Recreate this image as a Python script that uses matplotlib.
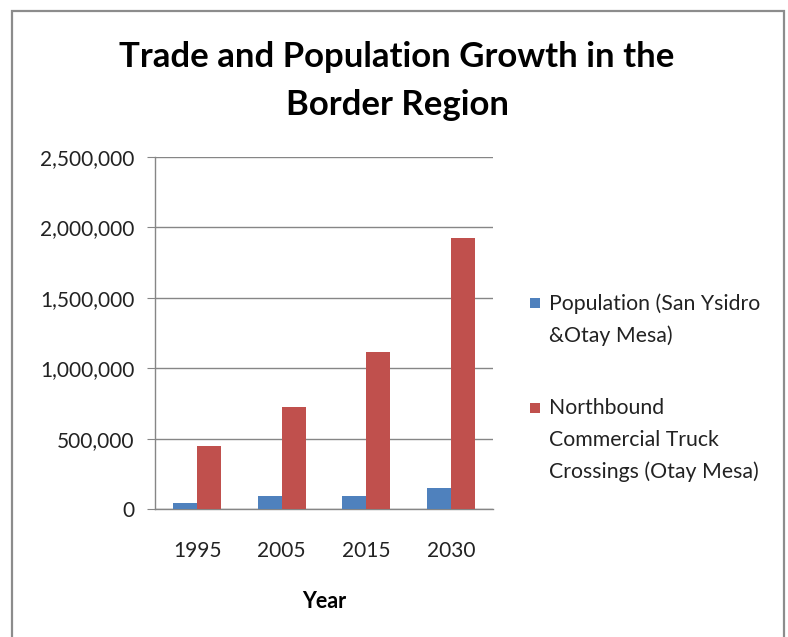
import matplotlib
matplotlib.use("Agg")
import matplotlib.pyplot as plt
from matplotlib.patches import Rectangle
from matplotlib.ticker import FuncFormatter
import numpy as np

YEARS = ["1995", "2005", "2015", "2030"]
POPULATION = [45000, 95000, 95000, 147000]
TRUCKS = [446000, 723000, 1114000, 1927000]
SERIES_LABELS = ["Population (San Ysidro\n&Otay Mesa)",
                 "Northbound\nCommercial Truck\nCrossings (Otay Mesa)"]
TITLE = "Trade and Population Growth in the\nBorder Region"

BLUE = "#4F81BD"
RED = "#C0504D"
GRID = "#868686"
FONT = "Lato"

W, H = 788, 637


def px(x, y):
    return x / W, 1 - y / H


def main():
    plt.rcParams["font.family"] = [FONT, "DejaVu Sans"]
    fig = plt.figure(figsize=(W / 100, H / 100), dpi=100)

    # outer chart border
    fig.patches.append(Rectangle(px(12, 700), (784 - 12) / W, (700 - 11) / H,
                                 transform=fig.transFigure, fill=False,
                                 edgecolor="#8c8c8c", linewidth=1.6))

    ax = fig.add_axes([155 / W, 1 - 509 / H, (493 - 155) / W, (509 - 157) / H])
    x = np.arange(len(YEARS))
    width = 0.284
    ax.bar(x - width / 2, POPULATION, width, color=BLUE, zorder=3)
    ax.bar(x + width / 2, TRUCKS, width, color=RED, zorder=3)

    ax.set_xlim(-0.5, len(YEARS) - 0.5)
    ax.set_ylim(0, 2500000)
    ax.set_yticks(np.arange(0, 2500001, 500000))
    ax.yaxis.set_major_formatter(FuncFormatter(lambda v, _: f"{int(v):,}"))
    ax.set_xticks(x)
    ax.set_xticklabels(YEARS)
    ax.grid(axis="y", color=GRID, linewidth=1.0, zorder=0)
    for side in ["top", "right"]:
        ax.spines[side].set_visible(False)
    for side in ["left", "bottom"]:
        ax.spines[side].set_color(GRID)
        ax.spines[side].set_linewidth(1.0)
    ax.tick_params(axis="y", length=6, color=GRID, pad=9,
                   labelsize=15, labelcolor="#222222")
    ax.tick_params(axis="x", length=0, pad=23,
                   labelsize=15, labelcolor="#222222")
    ax.set_xlabel("Year", fontsize=15.5, fontweight="bold", labelpad=22)

    fig.text(*px(397, 81), TITLE, ha="center", va="center",
             fontsize=25, fontweight="bold", linespacing=1.6)

    # legend
    for color, label, ytop in zip([BLUE, RED], SERIES_LABELS, [303, 408]):
        fig.patches.append(Rectangle(px(530, ytop + 5), 10 / W, 10 / H,
                                     transform=fig.transFigure,
                                     facecolor=color, edgecolor="none"))
        fig.text(*px(549, ytop - 10), label, ha="left", va="top",
                 fontsize=15.3, color="#222222", linespacing=1.72)

    fig.savefig("out.png", dpi=100)
    plt.close(fig)


if __name__ == "__main__":
    main()
